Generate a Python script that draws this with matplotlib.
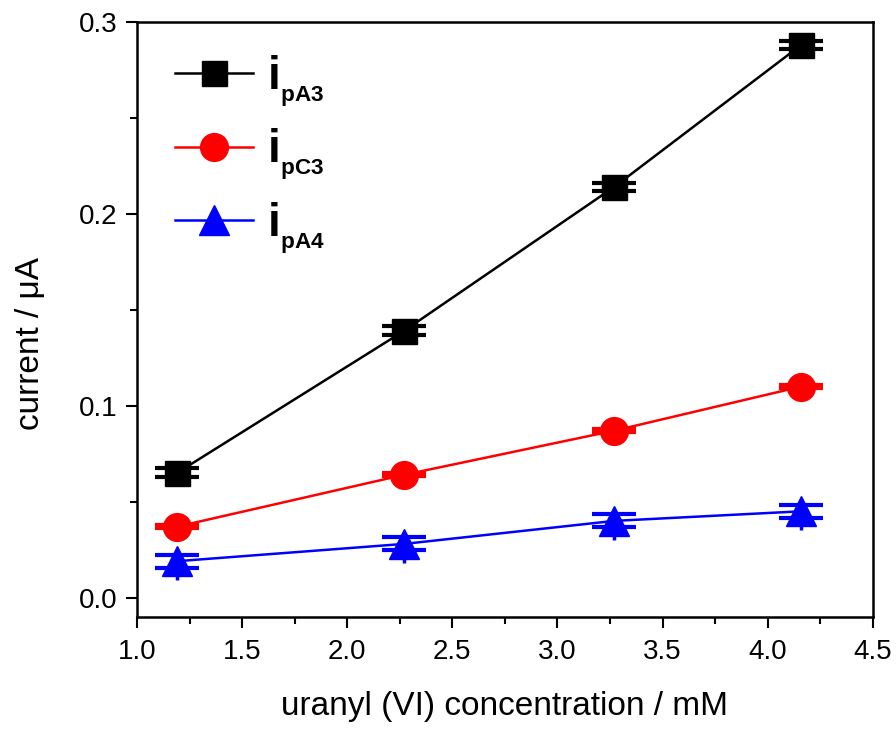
import matplotlib
matplotlib.use("Agg")
import matplotlib.pyplot as plt
from matplotlib.ticker import MultipleLocator

plt.rcParams['font.family'] = ['Liberation Sans', 'DejaVu Sans']
plt.rcParams['mathtext.fontset'] = 'custom'
plt.rcParams['mathtext.rm'] = 'Liberation Sans'
plt.rcParams['mathtext.bf'] = 'Liberation Sans:bold'

conc = [1.19, 2.27, 3.27, 4.16]
i_pA3 = [0.065, 0.139, 0.214, 0.288]
i_pA3_err = [0.0023, 0.0023, 0.0023, 0.0023]
i_pC3 = [0.037, 0.064, 0.087, 0.110]
i_pC3_err = [0.0008, 0.0008, 0.0008, 0.0008]
i_pA4 = [0.019, 0.028, 0.040, 0.045]
i_pA4_err = [0.0034, 0.0034, 0.0034, 0.0034]
i_pA4_err_low = [0.010, 0.010, 0.010, 0.010]

series = [
    (i_pA3, i_pA3_err, 'black', 's', 18, r'$\mathbf{i}_{{}_{\mathbf{pA3}}}$'),
    (i_pC3, i_pC3_err, 'red', 'o', 20, r'$\mathbf{i}_{{}_{\mathbf{pC3}}}$'),
    (i_pA4, i_pA4_err, 'blue', '^', 21, r'$\mathbf{i}_{{}_{\mathbf{pA4}}}$'),
]

fig = plt.figure(figsize=(8.96, 7.3), dpi=100)
ax = fig.add_axes([0.153, 0.155, 0.821, 0.815])

handles = []
for vals, err, col, mk, ms, lab in series:
    ax.errorbar(conc, vals, yerr=err, color=col, ecolor=col, elinewidth=2.5,
                capsize=16, capthick=3, fmt='none', zorder=2)
    h, = ax.plot(conc, vals, color=col, marker=mk, markersize=ms, lw=1.8,
                 label=lab, zorder=3)
    handles.append(h)

ax.errorbar(conc, i_pA4, yerr=[i_pA4_err_low, [0] * len(conc)], color='blue',
            elinewidth=2.5, capsize=0, fmt='none', zorder=2)

ax.set_xlim(1.0, 4.5)
ax.set_ylim(-0.01, 0.3)
ax.set_xticks([1.0, 1.5, 2.0, 2.5, 3.0, 3.5, 4.0, 4.5])
ax.set_yticks([0.0, 0.1, 0.2, 0.3])
ax.xaxis.set_minor_locator(MultipleLocator(0.25))
ax.yaxis.set_minor_locator(MultipleLocator(0.05))
ax.tick_params(which='major', direction='out', length=8, width=1.5, labelsize=20)
ax.tick_params(axis='x', which='major', pad=8)
ax.tick_params(axis='y', which='major', pad=6)
ax.tick_params(which='minor', direction='out', length=5, width=1.5)
for s in ax.spines.values():
    s.set_linewidth(1.8)

ax.set_xlabel('uranyl (VI) concentration / mM', fontsize=24, labelpad=19)
ax.set_ylabel('current / \u03bcA', fontsize=24)
ax.yaxis.set_label_coords(-0.124, 0.46)

leg = ax.legend(handles=handles, loc='upper left', frameon=False, fontsize=33,
                handlelength=1.7, handletextpad=0.3, labelspacing=0.38,
                borderaxespad=0.0, bbox_to_anchor=(0.027, 0.978))

fig.savefig('out.png', dpi=100)
